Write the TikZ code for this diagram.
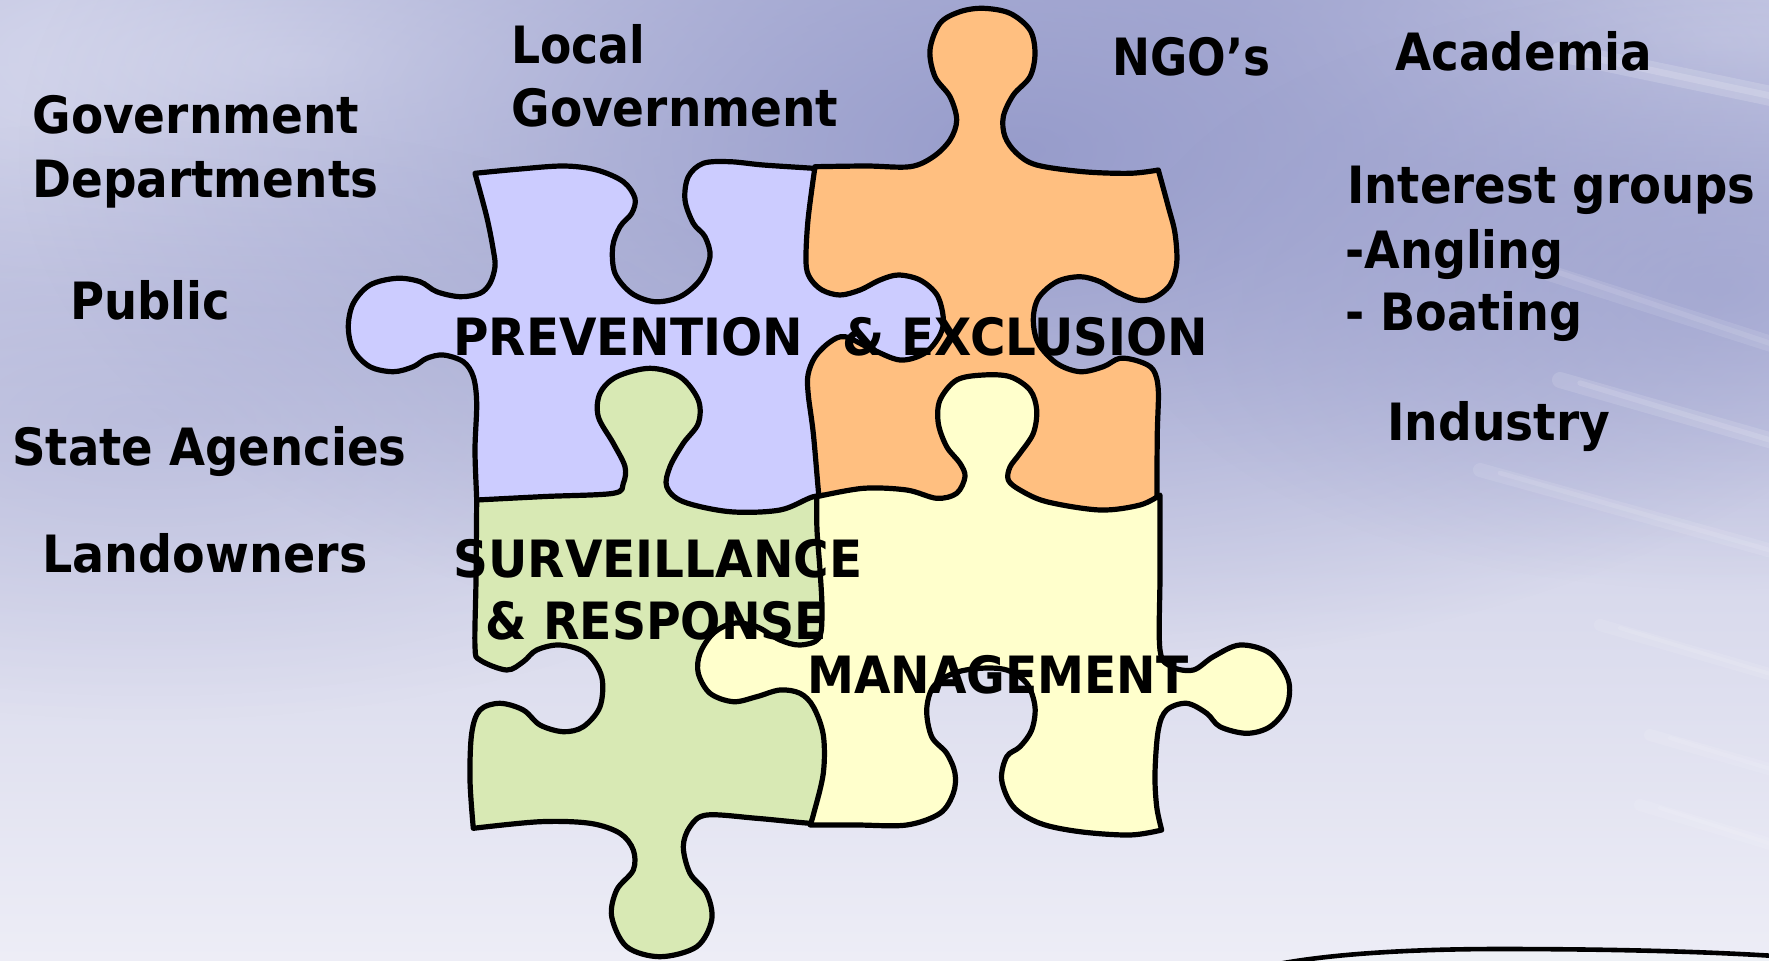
\documentclass[tikz,border=0pt]{standalone}
\usepackage{fontspec}
\usepackage{graphicx}
\setmainfont{DejaVu Sans}
\newfontfamily\labfont{DejaVu Sans}
\usetikzlibrary{fadings}

\definecolor{pieceblue}{HTML}{CCCCFF}
\definecolor{pieceorange}{HTML}{FFBF80}
\definecolor{piecegreen}{HTML}{D8E9B4}
\definecolor{pieceyellow}{HTML}{FFFFCC}
\definecolor{bgtop}{HTML}{B7BADC}
\definecolor{bgmid}{HTML}{C6C8E2}
\definecolor{bgbot}{HTML}{EDEDF6}
\definecolor{bgdeep}{HTML}{979CCB}
\definecolor{bglight}{HTML}{DADCEF}
\definecolor{basinfill}{HTML}{EEF1F6}

\tikzfading[name=softblob, inner color=transparent!0, outer color=transparent!100]

% stretch a label horizontally to a given width, keeping its height
\newcommand{\fitto}[2]{\resizebox{#1}{\height}{#2}}

\tikzset{
  piece/.style={draw=black, line width=2.6pt, line join=round},
  lbl/.style={anchor=base west, inner sep=0pt,
              font=\labfont\bfseries\fontsize{25.7pt}{30pt}\selectfont},
  streak/.style={draw=white, line cap=round},
}

\begin{document}
\begin{tikzpicture}[x=0.5pt,y=-0.5pt]
\useasboundingbox (0,0) rectangle (1769,960);
\clip (0,0) rectangle (1769,960);

% ---------- background ----------
\shade[top color=bgtop, middle color=bgmid, bottom color=bgbot] (0,0) rectangle (1769,960);
\fill[bglight, path fading=softblob] (300,60) ellipse [x radius=900, y radius=260];
\fill[bglight, opacity=.8, path fading=softblob] (1720,40) ellipse [x radius=500, y radius=160];
\fill[bgdeep, path fading=softblob] (1020,150) ellipse [x radius=1000, y radius=520];
\fill[bgdeep, opacity=.6, path fading=softblob] (1720,290) ellipse [x radius=600, y radius=300];
\fill[bgdeep, opacity=.35, path fading=softblob] (150,420) ellipse [x radius=700, y radius=300];

% faint light sweeps on the right
\foreach \xa/\ya/\yb/\w/\o in {1560/52/100/10/.16, 1540/270/350/8/.1, 1560/380/446/8/.13,
                               1480/470/556/7/.1, 1600/625/680/6/.1, 1650/735/775/6/.1,
                               1640/805/850/6/.09}{
  \draw[streak, opacity=\o, line width=\w] (\xa,\ya) -- (1790,\yb);
  \draw[streak, opacity=\o, line width=\w/3] (\xa+20,\ya+3) -- (1790,\yb);
}

% rim of the basin at the lower right
\draw[line width=2.3pt, fill=basinfill] (1268,966) .. controls (1330,953) and (1420,949) .. (1500,949)
  .. controls (1620,949) and (1720,952) .. (1790,957) -- (1790,970) -- (1268,970) -- cycle;

% ---------- puzzle pieces ----------
% prevention piece (its right and bottom sides lie under the neighbours)
\draw[piece, fill=pieceblue]
  plot[smooth, tension=.55] coordinates {(477,522) (476.7,500) (475,450) (476.7,403.3) (473.3,376.7)
    (463.3,361.7) (443.3,355) (426.7,358.3) (413.3,366.7) (393.3,371.7) (370,366.7) (353.3,350)
    (348.3,326.7) (353.3,303.3) (370,285) (396.7,278.3) (420,281.7) (436.7,291.7) (460,296.7)
    (480,293.3) (490,283.3) (495,266.7) (493.3,250) (486.7,216.7) (475,173.3)}
  -- plot[smooth, tension=.55] coordinates {(475,173.3) (516.7,169.3) (563.3,166) (596.7,170)
    (623.3,181.7) (635,198.3) (631.7,213.3) (620,226.7) (612.7,246.7) (615,273.3) (631.7,293.3)
    (655,301.7) (680,296.7) (700,280) (710,256.7) (705,236.7) (693.3,223.3) (685,200)
    (688.3,176.7) (703.3,163.3) (730,161.7) (763.3,165) (813.3,168.3) (832,170)}
  -- (832,268) -- (948,268) -- (948,380) -- (832,380) -- (832,522) -- cycle;

% exclusion piece
\draw[piece, fill=pieceorange]
  plot[smooth, tension=.55] coordinates {(815,166.7) (866.7,166) (910,166.7) (933.3,156.7) (950,140)
    (956.7,120) (950,96.7) (935,76.7) (930,50) (940,23.3) (960,11.7) (983.3,8.3) (1010,13.3)
    (1030,30) (1035,53.3) (1030,76.7) (1013.3,95) (1003.3,116.7) (1005,136.7) (1016.7,153.3)
    (1036.7,165) (1083.3,171.7) (1130,173.3) (1158.3,170)}
  -- plot[smooth, tension=.55] coordinates {(1158.3,170) (1168.3,206.7) (1175,233.3) (1176.7,263.3)
    (1170,285) (1153.3,298.3) (1136.7,300) (1116.7,291.7) (1100,281.7) (1080,276.7) (1056.7,281.7)
    (1038.3,298.3) (1033.3,320) (1038.3,343.3) (1056.7,363.3) (1080,371.7) (1103.3,366.7)
    (1120,358.3) (1140,361.7) (1153.3,370) (1158.3,390) (1157.3,433.3) (1157,493) (1158,516)}
  -- (821,516)
  -- plot[smooth, tension=.55] coordinates {(821,516) (818.3,490) (813.3,433.3) (808.3,395) (808,375)
    (815,357) (830,342) (845,336.7) (870,348.3) (900,360) (925,353) (940,335) (943.3,318) (937,295)
    (920,280) (898.3,275) (880,280) (860,290) (840,295) (822,290) (810,278) (806,262) (808,220)
    (815,166.7)}
  -- cycle;

% surveillance piece
\draw[piece, fill=piecegreen]
  plot[smooth, tension=.55] coordinates {(476.7,500) (545,496.5) (613.3,493.3) (623.3,483.3)
    (625,466.7) (613.3,443.3) (598.3,416.7) (600,393.3) (616.7,376.7) (650,368.3) (680,376.7)
    (698.3,400) (698.3,423.3) (683.3,443.3) (670,466.7) (666.7,486.7) (683.3,501.7) (730,511.7)
    (780,510) (813.3,496.7) (836,495)}
  -- (836,824)
  -- plot[smooth, tension=.55] coordinates {(836,824) (810,823.3) (756.7,818.3) (706.7,815)
    (690,826.7) (683.3,846.7) (690,873.3) (706.7,893.3) (711.7,920) (696.7,946.7) (660,956.7)
    (626.7,946.7) (611.7,916.7) (616.7,890) (633.3,870) (633.3,850) (620,833.3) (590,823.3)
    (540,821.7) (473.3,828.3)}
  -- plot[smooth, tension=.55] coordinates {(473.3,828.3) (470,780) (471.7,733.3) (480,710)
    (500,703.3) (523.3,710) (540,725) (563.3,731.7) (583.3,726.7) (600,706.7) (601.7,676.7)
    (586.7,653.3) (560,645) (536.7,650) (523.3,661.7) (506.7,670) (480,660) (475,646.7)
    (476,580) (476.7,500)}
  -- cycle;

% management piece
\draw[piece, fill=pieceyellow]
  plot[smooth, tension=.55] coordinates {(816.7,496.7) (863.3,488.3) (906.7,490) (936.7,498.3)
    (956.7,493.3) (965,476.7) (960,463.3) (946.7,446.7) (938.3,423.3) (940,400) (956.7,380)
    (983.3,375) (1010,376.7) (1030,390) (1036.7,410) (1033.3,433.3) (1020,453.3) (1010,467)
    (1008.3,480) (1020,490) (1046.7,501.7) (1100,510) (1140,505) (1160,495)}
  -- plot[smooth, tension=.55] coordinates {(1160,495) (1160,575) (1160,650) (1171.7,666.7)
    (1193.3,670) (1213.3,656.7) (1240,645) (1270,653.3) (1288.3,680) (1286.7,706.7) (1270,726.7)
    (1246.7,733.3) (1220,726.7) (1206.7,713.3) (1186.7,703.3) (1166.7,710) (1158.3,730)
    (1155,773.3) (1156.7,806.7) (1161.7,830)}
  -- plot[smooth, tension=.55] coordinates {(1161.7,830) (1130,835) (1080,831.7) (1040,823.3)
    (1013.3,806.7) (1001.7,780) (1006.7,756.7) (1020,746.7) (1031.7,730) (1035,706.7)
    (1026.7,683.3) (1006.7,670) (980,668.3) (953.3,673.3) (933.3,686.7) (926.7,710) (931.7,736.7)
    (946.7,753.3) (955,773.3) (953.3,793.3) (940,813.3) (906.7,825) (856.7,825) (810,825)}
  -- plot[smooth, tension=.55] coordinates {(810,825) (813.3,815) (823.3,773.3) (823.3,735)
    (813.3,706.7) (800,693.3) (780,690) (756.7,696.7) (733.3,701.7) (710,693.3) (698.3,673.3)
    (700,653.3) (713.3,633.3) (733.3,623.3) (756.7,626.7) (780,640) (800,645) (819,638)
    (822,610) (820,570) (817,530) (816.7,496.7)}
  -- cycle;

% ---------- piece titles ----------
\node[lbl] (prev) at (453,355) {\fitto{175pt}{PREVENTION}};
\node[lbl] (excl) at (842,355) {\fitto{183pt}{\& EXCLUSION}};
\node[lbl] (surv) at (453,577) {\fitto{204.5pt}{SURVEILLANCE}};
\node[lbl] (resp) at (485,639) {\fitto{171pt}{\& RESPONSE}};
\node[lbl] (mgmt) at (807,693) {\fitto{190.5pt}{MANAGEMENT}};

% ---------- stakeholders ----------
\node[lbl] (govA) at (32,133) {\fitto{163.5pt}{Government}};
\node[lbl] (govB) at (32,197) {\fitto{173pt}{Departments}};
\node[lbl] (pub)  at (70,319) {\fitto{80pt}{Public}};
\node[lbl] (state) at (12,465) {\fitto{197pt}{State Agencies}};
\node[lbl] (land) at (42,572) {\fitto{162.5pt}{Landowners}};
\node[lbl] (locA) at (511,63) {\fitto{67pt}{Local}};
\node[lbl] (locB) at (511,126) {\fitto{163.5pt}{Government}};
\node[lbl] (ngo)  at (1112,75) {\fitto{79pt}{NGO’s}};
\node[lbl] (acad) at (1395,70) {\fitto{128.5pt}{Academia}};
\node[lbl] (intA) at (1347,203) {\fitto{204pt}{Interest groups}};
\node[lbl] (intB) at (1345,268) {\fitto{109pt}{-Angling}};
\node[lbl] (intC) at (1345,330) {\fitto{118.5pt}{- Boating}};
\node[lbl] (ind)  at (1387,440) {\fitto{111.5pt}{Industry}};
\end{tikzpicture}
\end{document}
